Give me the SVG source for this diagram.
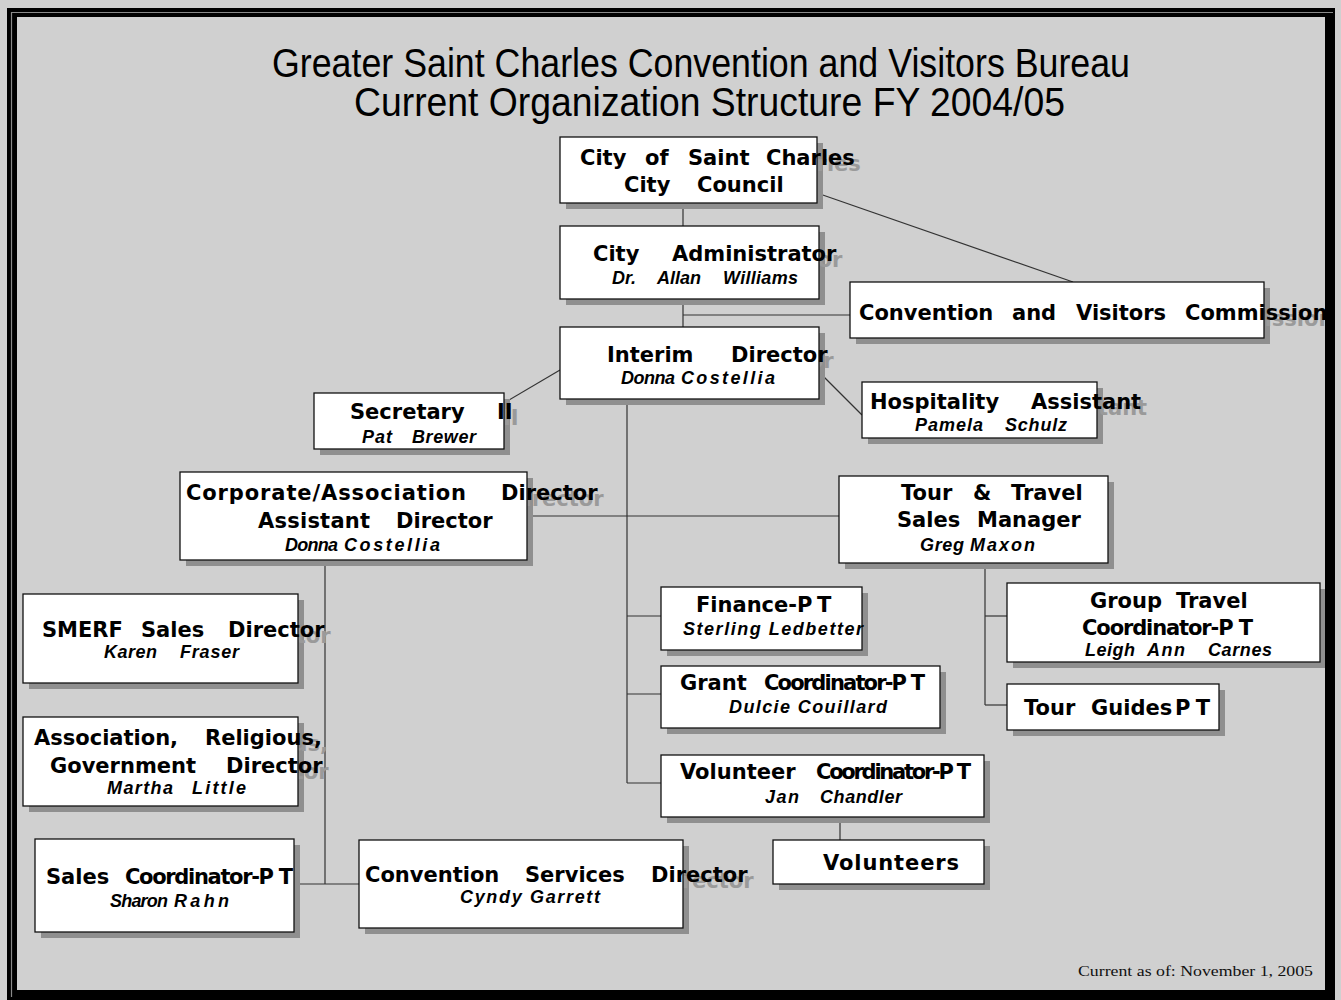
<svg xmlns="http://www.w3.org/2000/svg" width="1341" height="1000" viewBox="0 0 1341 1000">
<style>
.h{font-family:"DejaVu Sans","Liberation Sans",sans-serif;font-weight:bold;font-size:21px;fill:#000}
.n{font-family:"Liberation Sans",Arial,sans-serif;font-weight:bold;font-style:italic;font-size:18px;fill:#000}
.gh{fill:#9a9a9a}
.box{fill:#fff;stroke:#111;stroke-width:1.3}
.sh{fill:#8f8f8f}
.conn line{stroke:#333;stroke-width:1.2;fill:none}
.title{font-family:"Liberation Sans",Arial,sans-serif;font-size:41px;fill:#000}
.foot{font-family:"Liberation Serif","Times New Roman",serif;font-size:15px;fill:#111}
</style>
<rect x="0" y="0" width="1341" height="1000" fill="#d0d0d0"/>

<g id="title">
<text class="title" x="272" y="77" textLength="858" lengthAdjust="spacingAndGlyphs">Greater Saint Charles Convention and Visitors Bureau</text>
<text class="title" x="354" y="116" textLength="711" lengthAdjust="spacingAndGlyphs">Current Organization Structure FY 2004/05</text>
</g>

<g id="connectors" class="conn">
<line x1="683" y1="203" x2="683" y2="226"/>
<line x1="683" y1="299" x2="683" y2="327"/>
<line x1="683" y1="315" x2="850" y2="315"/>
<line x1="817" y1="193" x2="1073" y2="282"/>
<line x1="819" y1="372" x2="862" y2="415"/>
<line x1="504" y1="403" x2="560" y2="370"/>
<line x1="527" y1="516" x2="839" y2="516"/>
<line x1="627" y1="399" x2="627" y2="783"/>
<line x1="627" y1="616" x2="661" y2="616"/>
<line x1="627" y1="694" x2="661" y2="694"/>
<line x1="627" y1="783" x2="661" y2="783"/>
<line x1="985" y1="563" x2="985" y2="705"/>
<line x1="985" y1="616" x2="1007" y2="616"/>
<line x1="985" y1="705" x2="1007" y2="705"/>
<line x1="840" y1="817" x2="840" y2="840"/>
<line x1="325" y1="560" x2="325" y2="884"/>
<line x1="294" y1="884" x2="359" y2="884"/>
</g>

<g id="council">
<rect class="sh" x="566" y="143" width="257" height="66"/>
<text class="h gh" x="772" y="171">Charles</text>
<rect class="box" x="560" y="137" width="257" height="66"/>
<text class="h" y="165"><tspan x="580">City</tspan> <tspan x="645">of</tspan> <tspan x="688">Saint</tspan> <tspan x="766">Charles</tspan></text>
<text class="h" y="192"><tspan x="624">City</tspan> <tspan x="697">Council</tspan></text>
</g>

<g id="administrator">
<rect class="sh" x="566" y="232" width="259" height="73"/>
<text class="h gh" x="678" y="267">Administrator</text>
<rect class="box" x="560" y="226" width="259" height="73"/>
<text class="h" y="261"><tspan x="593">City</tspan> <tspan x="672">Administrator</tspan></text>
<text class="n" y="284"><tspan x="612">Dr.</tspan> <tspan x="657">Allan</tspan> <tspan x="723" textLength="75" lengthAdjust="spacing">Williams</tspan></text>
</g>

<g id="interim">
<rect class="sh" x="566" y="333" width="259" height="72"/>
<text class="h gh" x="737" y="368">Director</text>
<rect class="box" x="560" y="327" width="259" height="72"/>
<text class="h" y="362"><tspan x="607">Interim</tspan> <tspan x="731">Director</tspan></text>
<text class="n" y="384"><tspan x="621" textLength="54" lengthAdjust="spacing">Donna</tspan> <tspan x="681" textLength="94" lengthAdjust="spacing">Costellia</tspan></text>
</g>

<g id="commission">
<rect class="sh" x="856" y="288" width="414" height="56"/>
<text class="h gh" x="1191" y="326">Commission</text>
<rect class="box" x="850" y="282" width="414" height="56"/>
<text class="h" y="320"><tspan x="859">Convention</tspan> <tspan x="1012">and</tspan> <tspan x="1076">Visitors</tspan> <tspan x="1185">Commission</tspan></text>
</g>

<g id="hospitality">
<rect class="sh" x="868" y="388" width="235" height="56"/>
<text class="h gh" x="1037" y="415">Assistant</text>
<rect class="box" x="862" y="382" width="235" height="56"/>
<text class="h" y="409"><tspan x="870">Hospitality</tspan> <tspan x="1031">Assistant</tspan></text>
<text class="n" y="431"><tspan x="915" textLength="68" lengthAdjust="spacing">Pamela</tspan> <tspan x="1005" textLength="62" lengthAdjust="spacing">Schulz</tspan></text>
</g>

<g id="secretary">
<rect class="sh" x="320" y="399" width="190" height="56"/>
<text class="h gh" x="503" y="425">II</text>
<rect class="box" x="314" y="393" width="190" height="56"/>
<text class="h" y="419"><tspan x="350">Secretary</tspan> <tspan x="497">II</tspan></text>
<text class="n" y="443"><tspan x="362" textLength="30" lengthAdjust="spacing">Pat</tspan> <tspan x="412" textLength="64" lengthAdjust="spacing">Brewer</tspan></text>
</g>

<g id="corporate">
<rect class="sh" x="186" y="478" width="347" height="88"/>
<text class="h gh" x="507" y="506">Director</text>
<rect class="box" x="180" y="472" width="347" height="88"/>
<text class="h" y="500"><tspan x="186" textLength="280" lengthAdjust="spacing">Corporate/Association</tspan> <tspan x="501">Director</tspan></text>
<text class="h" y="528"><tspan x="258" textLength="112" lengthAdjust="spacing">Assistant</tspan> <tspan x="396">Director</tspan></text>
<text class="n" y="551"><tspan x="285" textLength="53" lengthAdjust="spacing">Donna</tspan> <tspan x="344" textLength="96" lengthAdjust="spacing">Costellia</tspan></text>
</g>

<g id="tour-travel">
<rect class="sh" x="845" y="482" width="269" height="87"/>
<rect class="box" x="839" y="476" width="269" height="87"/>
<text class="h" y="500"><tspan x="901">Tour</tspan> <tspan x="973">&amp;</tspan> <tspan x="1011">Travel</tspan></text>
<text class="h" y="527"><tspan x="897">Sales</tspan> <tspan x="977">Manager</tspan></text>
<text class="n" y="551"><tspan x="920" textLength="44" lengthAdjust="spacing">Greg</tspan> <tspan x="970" textLength="65" lengthAdjust="spacing">Maxon</tspan></text>
</g>

<g id="group-travel">
<rect class="sh" x="1013" y="589" width="313" height="79"/>
<rect class="box" x="1007" y="583" width="313" height="79"/>
<text class="h" y="608"><tspan x="1090">Group</tspan> <tspan x="1176">Travel</tspan></text>
<text class="h" y="635"><tspan x="1082" textLength="171" lengthAdjust="spacing">Coordinator-P T</tspan></text>
<text class="n" y="656"><tspan x="1085" textLength="50" lengthAdjust="spacing">Leigh</tspan> <tspan x="1147" textLength="38" lengthAdjust="spacing">Ann</tspan> <tspan x="1208" textLength="64" lengthAdjust="spacing">Carnes</tspan></text>
</g>

<g id="tour-guides">
<rect class="sh" x="1013" y="690" width="212" height="46"/>
<rect class="box" x="1007" y="684" width="212" height="46"/>
<text class="h" y="715"><tspan x="1024">Tour</tspan> <tspan x="1091">Guides</tspan> <tspan x="1175" textLength="35" lengthAdjust="spacing">P T</tspan></text>
</g>

<g id="finance">
<rect class="sh" x="667" y="593" width="201" height="63"/>
<rect class="box" x="661" y="587" width="201" height="63"/>
<text class="h" y="612"><tspan x="696">Finance-P</tspan> <tspan x="817">T</tspan></text>
<text class="n" y="635"><tspan x="683" textLength="180" lengthAdjust="spacing">Sterling Ledbetter</tspan></text>
</g>

<g id="grant">
<rect class="sh" x="667" y="672" width="279" height="62"/>
<rect class="box" x="661" y="666" width="279" height="62"/>
<text class="h" y="690"><tspan x="680">Grant</tspan> <tspan x="764" textLength="161" lengthAdjust="spacing">Coordinator-P T</tspan></text>
<text class="n" y="713"><tspan x="729" textLength="158" lengthAdjust="spacing">Dulcie Couillard</tspan></text>
</g>

<g id="volunteer-coordinator">
<rect class="sh" x="667" y="761" width="323" height="62"/>
<rect class="box" x="661" y="755" width="323" height="62"/>
<text class="h" y="779"><tspan x="680">Volunteer</tspan> <tspan x="816" textLength="155" lengthAdjust="spacing">Coordinator-P T</tspan></text>
<text class="n" y="803"><tspan x="765" textLength="34" lengthAdjust="spacing">Jan</tspan> <tspan x="820" textLength="82" lengthAdjust="spacing">Chandler</tspan></text>
</g>

<g id="volunteers">
<rect class="sh" x="779" y="846" width="211" height="44"/>
<rect class="box" x="773" y="840" width="211" height="44"/>
<text class="h" y="870"><tspan x="823" textLength="136" lengthAdjust="spacing">Volunteers</tspan></text>
</g>

<g id="smerf">
<rect class="sh" x="29" y="600" width="275" height="89"/>
<text class="h gh" x="234" y="643">Director</text>
<rect class="box" x="23" y="594" width="275" height="89"/>
<text class="h" y="637"><tspan x="42">SMERF</tspan> <tspan x="141">Sales</tspan> <tspan x="228">Director</tspan></text>
<text class="n" y="658"><tspan x="104" textLength="53" lengthAdjust="spacing">Karen</tspan> <tspan x="180" textLength="59" lengthAdjust="spacing">Fraser</tspan></text>
</g>

<g id="association">
<rect class="sh" x="29" y="723" width="275" height="89"/>
<text class="h gh" x="211" y="751">Religious,</text>
<text class="h gh" x="232" y="779">Director</text>
<rect class="box" x="23" y="717" width="275" height="89"/>
<text class="h" y="745"><tspan x="34">Association,</tspan> <tspan x="205">Religious,</tspan></text>
<text class="h" y="773"><tspan x="50">Government</tspan> <tspan x="226">Director</tspan></text>
<text class="n" y="794"><tspan x="107" textLength="66" lengthAdjust="spacing">Martha</tspan> <tspan x="192" textLength="54" lengthAdjust="spacing">Little</tspan></text>
</g>

<g id="sales-coordinator">
<rect class="sh" x="41" y="845" width="259" height="93"/>
<rect class="box" x="35" y="839" width="259" height="93"/>
<text class="h" y="884"><tspan x="46">Sales</tspan> <tspan x="125" textLength="168" lengthAdjust="spacing">Coordinator-P T</tspan></text>
<text class="n" y="907"><tspan x="110" textLength="58" lengthAdjust="spacing">Sharon</tspan> <tspan x="174" textLength="55" lengthAdjust="spacing">Rahn</tspan></text>
</g>

<g id="convention-services">
<rect class="sh" x="365" y="846" width="324" height="88"/>
<text class="h gh" x="657" y="888">Director</text>
<rect class="box" x="359" y="840" width="324" height="88"/>
<text class="h" y="882"><tspan x="365">Convention</tspan> <tspan x="525">Services</tspan> <tspan x="651">Director</tspan></text>
<text class="n" y="903"><tspan x="460" textLength="140" lengthAdjust="spacing">Cyndy Garrett</tspan></text>
</g>

<text id="footer" class="foot" x="1078" y="976" textLength="235" lengthAdjust="spacingAndGlyphs">Current as of: November 1, 2005</text>

<g id="frame">
<path d="M7 8H1335V1000H7Z M17 17V990H1325V17Z" fill="#000" fill-rule="evenodd"/>
<line x1="11.5" y1="12" x2="11.5" y2="997" stroke="#8a8a8a" stroke-width="1.2"/>
<line x1="11" y1="12.5" x2="1333" y2="12.5" stroke="#8a8a8a" stroke-width="1.2"/>
</g>
</svg>
